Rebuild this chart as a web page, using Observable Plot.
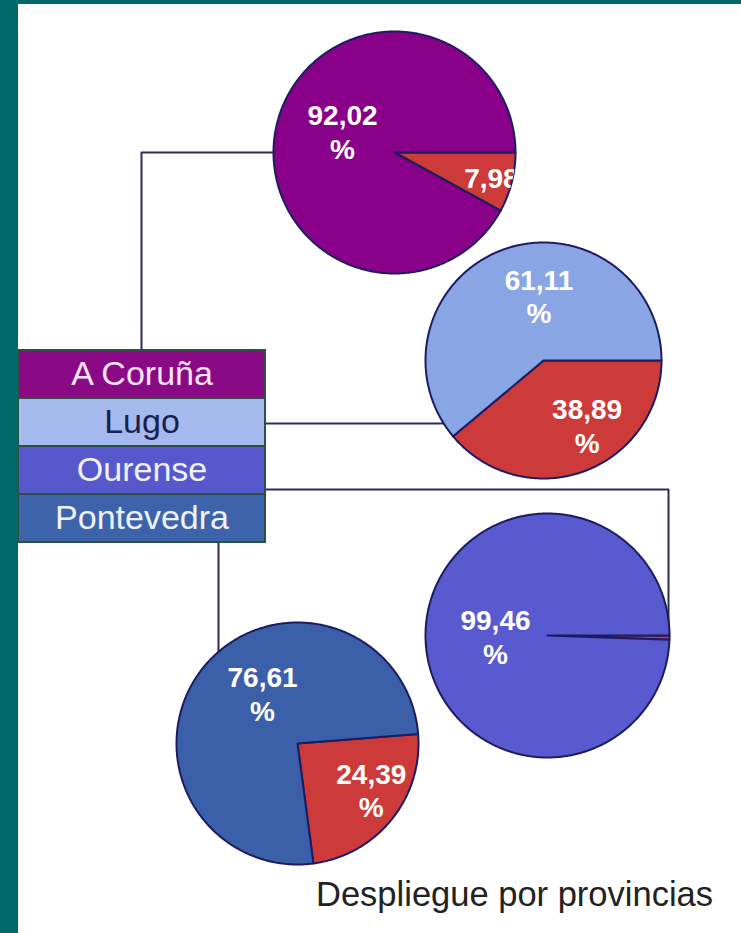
<!DOCTYPE html>
<html><head><meta charset="utf-8">
<script src="https://cdn.jsdelivr.net/npm/d3@7"></script>
<script src="https://cdn.jsdelivr.net/npm/@observablehq/plot@0.6"></script>
<style>
html,body{margin:0;padding:0;background:#fff}
#frame{background:#006868;padding:4px 0 0 18px;width:723px;height:929px}
#inner{background:#fff;width:723px;height:929px;overflow:hidden}
#chart svg{display:block}
#caption{font-family:"Liberation Sans",Arial,sans-serif;font-size:34.5px;line-height:40px;color:#222;text-align:right;padding-right:28px}
</style></head><body>
<div id="frame"><div id="inner"><div id="chart"></div><div id="caption"></div></div></div>
<script>
// ---- data ----
const provinces = ["A Coruña", "Lugo", "Ourense", "Pontevedra"];
const mainShare = [92.02, 61.11, 99.46, 76.61];
const otherShare = [7.98, 38.89, 0.54, 24.39];
const captionText = "Despliegue por provincias";

// ---- styles ----
const pieColors = ["#890089", "#8aa5e4", "#5959d0", "#3b60a9"];
const otherColor = "#cc3a3a";
const legendColors = ["#8a0a86", "#a5b9ee", "#5858cd", "#3d63ab"];
const legendTextColors = ["#f8e2f6", "#1a1f4d", "#f2f2ff", "#eef2ff"];
const outlineColor = "#1c1c62";
const connectorColor = "#2c2c58";
const fontFamily = "'Liberation Sans', Arial, sans-serif";

// ---- layout (page pixels) ----
const pieCx = [394, 543, 547, 297];
const pieCy = [152, 360, 635, 743];
const pieR = [121, 118, 122, 121];
const pieRotation = [0, 0, 0, -4.5]; // start of red slice, degrees clockwise from 3 o'clock
const labelAngleMain = [202, 266, 179, 235];
const labelRadiusMain = [56, 65, 52, 61];
const labelAngleOther = [12.5, 56, null, 32];
const labelRadiusOther = [116, 78, null, 87];
const legendLeft = 18, legendRight = 265, legendTop = 350, legendRowH = 48;
const connectorPaths = [
  [[141, 350], [141, 152], [394, 152]],
  [[265, 423], [543, 423]],
  [[265, 489], [668, 489], [668, 635]],
  [[218, 542], [218, 743]]
];

// ---- derived tables ----
const rad = Math.PI / 180;
function sliceAngles(i, kind) {
  const total = mainShare[i] + otherShare[i];
  const a0 = pieRotation[i] * rad;
  const aMid = a0 + otherShare[i] / total * 2 * Math.PI;
  return kind === "other" ? [a0, aMid] : [aMid, a0 + 2 * Math.PI];
}
function slicePoints(i, kind) {
  const [s, e] = sliceAngles(i, kind);
  const cx = pieCx[i], cy = pieCy[i], r = pieR[i];
  const n = Math.max(2, Math.ceil((e - s) / (0.5 * rad)));
  const pts = [[cx, cy]];
  for (let k = 0; k <= n; k++) {
    const a = s + (e - s) * k / n;
    pts.push([cx + r * Math.cos(a), cy + r * Math.sin(a)]);
  }
  pts.push([cx, cy]);
  return pts;
}
const slices = [];
provinces.forEach((p, i) => {
  for (const kind of ["other", "main"]) {
    const id = p + "-" + kind;
    const fill = kind === "other" ? otherColor : pieColors[i];
    slicePoints(i, kind).forEach(([x, y]) => slices.push({id, x, y, fill}));
  }
});
// narrow slices get a one-line label, wider ones wrap the % sign
const fmt = v => v.toFixed(2).replace(".", ",") + (v < 10 ? " %" : "\n%");
const labels = [];
provinces.forEach((p, i) => {
  labels.push({i, kind: "main", text: fmt(mainShare[i]),
    x: pieCx[i] + labelRadiusMain[i] * Math.cos(labelAngleMain[i] * rad),
    y: pieCy[i] + labelRadiusMain[i] * Math.sin(labelAngleMain[i] * rad)});
  if (labelAngleOther[i] != null) labels.push({i, kind: "other", text: fmt(otherShare[i]),
    x: pieCx[i] + labelRadiusOther[i] * Math.cos(labelAngleOther[i] * rad),
    y: pieCy[i] + labelRadiusOther[i] * Math.sin(labelAngleOther[i] * rad)});
});
const legendRows = provinces.map((p, i) => ({
  name: p, fill: legendColors[i], color: legendTextColors[i],
  x1: legendLeft, x2: legendRight,
  y1: legendTop + i * legendRowH, y2: legendTop + (i + 1) * legendRowH
}));
const connectors = connectorPaths.flatMap((path, i) => path.map(([x, y]) => ({id: i, x, y})));

const W = 723, H = 870;
const chart = Plot.plot({
  width: W, height: H,
  margin: 0,
  x: {domain: [18, 18 + W], range: [0, W], axis: null},
  y: {domain: [4, 4 + H], range: [0, H], axis: null},
  color: {type: "identity"},
  style: {background: "#fff", fontFamily},
  marks: [
    Plot.line(connectors, {x: "x", y: "y", z: "id", stroke: connectorColor, strokeWidth: 2}),
    Plot.rect(legendRows, {x1: "x1", x2: "x2", y1: "y1", y2: "y2", fill: "fill", stroke: "#2d5043", strokeWidth: 2}),
    Plot.text(legendRows, {x: d => (d.x1 + d.x2) / 2, y: d => (d.y1 + d.y2) / 2, text: "name", fill: "color", fontSize: 34, fontFamily}),
    Plot.line(slices, {x: "x", y: "y", z: "id", fill: "fill", stroke: outlineColor, strokeWidth: 2, strokeLinejoin: "round", curve: "linear"}),
    Plot.text(labels, {x: "x", y: "y", text: "text", fill: "#fff", fontSize: 28, fontWeight: "bold", lineHeight: 1.2, fontFamily})
  ]
});
document.getElementById("chart").appendChild(chart);
document.getElementById("caption").textContent = captionText;

// clip each pie label to its own slice
const ns = "http://www.w3.org/2000/svg";
const xs = chart.scale("x"), ys = chart.scale("y");
const defs = document.createElementNS(ns, "defs");
chart.insertBefore(defs, chart.firstChild);
const textGroups = chart.querySelectorAll('g[aria-label="text"]');
const labelGroup = textGroups[textGroups.length - 1];
Array.from(labelGroup.querySelectorAll(":scope > text")).forEach((t, k) => {
  const d = labels[k];
  const pts = slicePoints(d.i, d.kind).map(([x, y]) => [xs.apply(x), ys.apply(y)]);
  const cp = document.createElementNS(ns, "clipPath");
  cp.setAttribute("id", "labelclip" + k);
  const path = document.createElementNS(ns, "path");
  path.setAttribute("d", "M" + pts.map(p => p.join(",")).join("L") + "Z");
  cp.appendChild(path);
  defs.appendChild(cp);
  const g = document.createElementNS(ns, "g");
  g.setAttribute("clip-path", "url(#labelclip" + k + ")");
  t.parentNode.insertBefore(g, t);
  g.appendChild(t);
});
</script>
</body></html>
